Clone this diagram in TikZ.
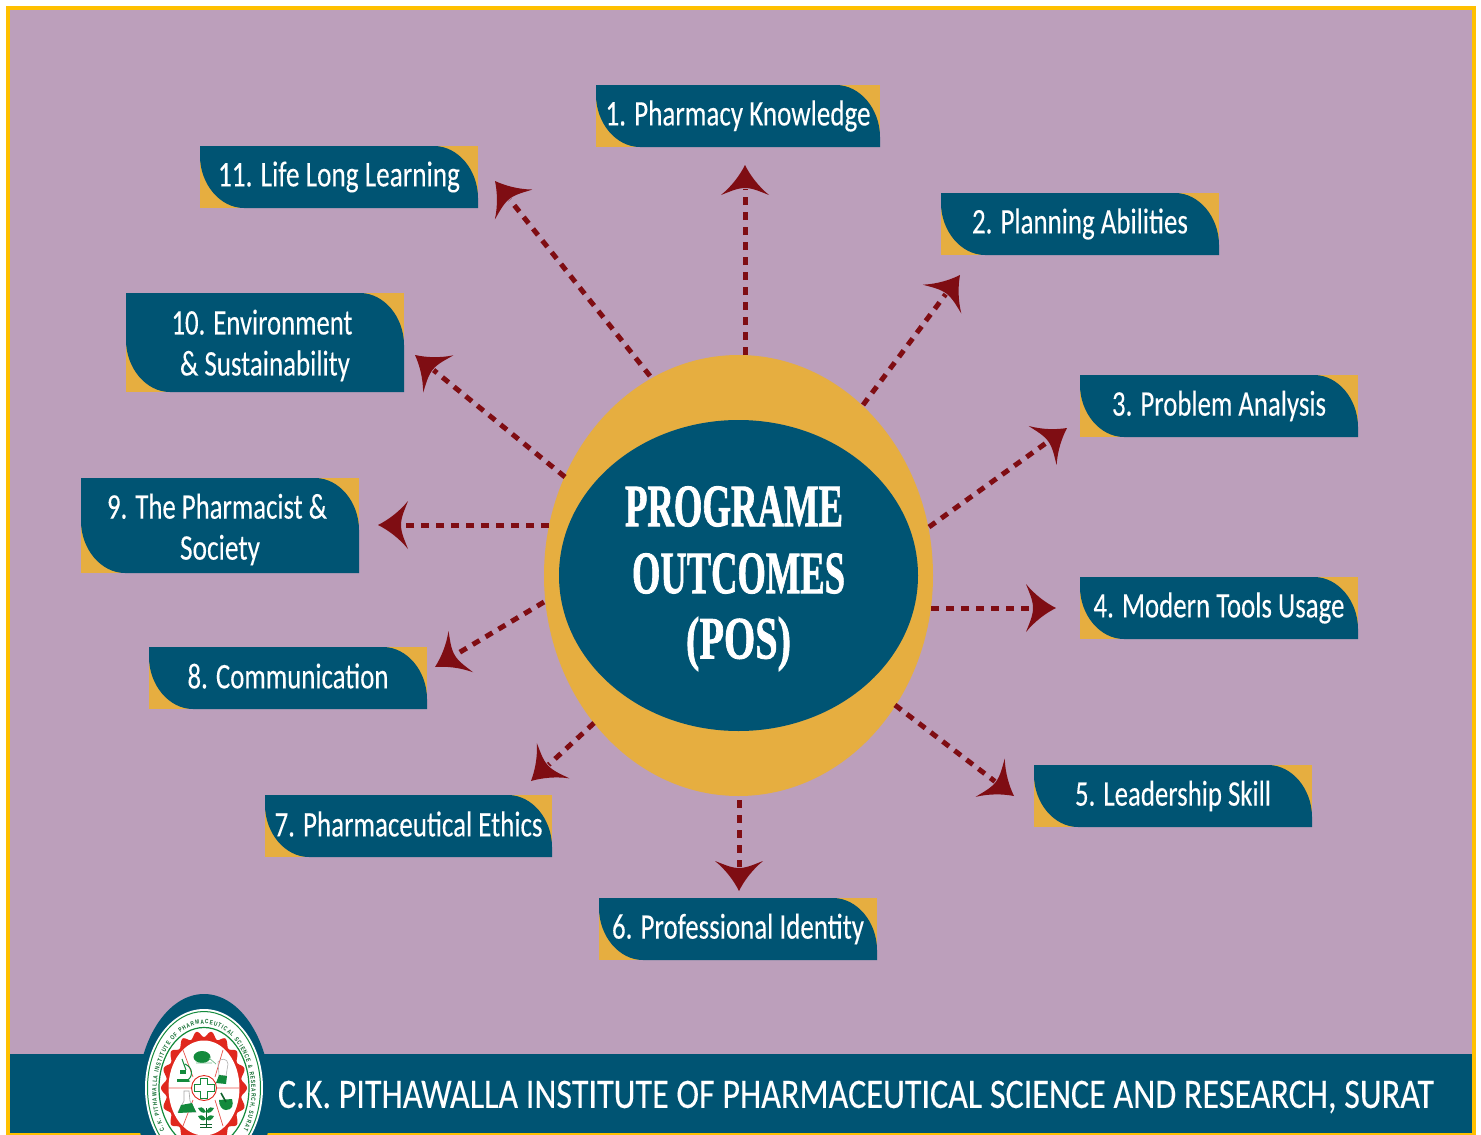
\documentclass[tikz,border=0pt]{standalone}
\usepackage{fontspec}
\usepackage{graphicx}
\usetikzlibrary{decorations.text,shapes.geometric}
\setmainfont{Carlito}[FakeBold=0.2]
\newfontfamily\titlefont{Liberation Serif}[BoldFont={Liberation Serif Bold},BoldFeatures={FakeBold=1.6}]
\newfontfamily\ringfont{Liberation Sans}[FakeStretch=0.78]
\definecolor{bgmauve}{HTML}{BC9FBB}
\definecolor{deepteal}{HTML}{005473}
\definecolor{goldfill}{HTML}{E6AE40}
\definecolor{frameyellow}{HTML}{FFC000}
\definecolor{tipred}{HTML}{7F0D13}
\definecolor{logored}{HTML}{E0281E}
\definecolor{logogreen}{HTML}{138A3C}
\definecolor{ringink}{HTML}{0E6A2E}
\pgfdeclarearrow{
  name=CurvedKite,
  setup code={
    \pgfarrowssettipend{0pt}
    \pgfarrowssetlineend{-24pt}
    \pgfarrowssetbackend{-30pt}
    \pgfarrowssetvisualbackend{-23pt}
  },
  drawing code={
    \pgfpathmoveto{\pgfqpoint{0pt}{0pt}}
    \pgfpathcurveto{\pgfqpoint{-10pt}{5pt}}{\pgfqpoint{-21pt}{13pt}}{\pgfqpoint{-30pt}{24pt}}
    \pgfpathcurveto{\pgfqpoint{-27pt}{16pt}}{\pgfqpoint{-23pt}{8pt}}{\pgfqpoint{-23pt}{0pt}}
    \pgfpathcurveto{\pgfqpoint{-23pt}{-8pt}}{\pgfqpoint{-27pt}{-16pt}}{\pgfqpoint{-30pt}{-24pt}}
    \pgfpathcurveto{\pgfqpoint{-21pt}{-13pt}}{\pgfqpoint{-10pt}{-5pt}}{\pgfqpoint{0pt}{0pt}}
    \pgfpathclose
    \pgfusepathqfill
  }
}
% \lineW[downward shift]{width}{text}
\newcommand{\lineW}[3][0]{\raisebox{-#1pt}[\height][\depth]{\resizebox{#2pt}{\height}{#3}}}
\tikzset{
  lblbox/.style={
    rectangle, fill=goldfill, text=white, inner sep=0pt, align=center,
    font=\fontsize{36}{41}\selectfont,
    minimum height=62pt,
    path picture={
      \fill[deepteal]
        (path picture bounding box.north west)
        -- ([xshift=-44pt]path picture bounding box.north east)
        .. controls ([xshift=-20pt]path picture bounding box.north east)
           and ([yshift=-24pt]path picture bounding box.north east)
        .. ([yshift=-52pt]path picture bounding box.north east)
        -- (path picture bounding box.south east)
        -- ([xshift=44pt]path picture bounding box.south west)
        .. controls ([xshift=20pt]path picture bounding box.south west)
           and ([yshift=24pt]path picture bounding box.south west)
        .. ([yshift=52pt]path picture bounding box.south west)
        -- cycle;
    }
  },
  connector/.style={color=tipred, line width=5pt, dash pattern=on 8pt off 7pt, -CurvedKite},
  titleline/.style={text=white, inner sep=0pt, font=\titlefont\bfseries\fontsize{60}{60}\selectfont},
  banner/.style={text=white, inner sep=0pt, font=\fontsize{42}{42}\selectfont},
  logoink/.style={fill=logogreen, draw=none},
  spoke/.style={draw=logored!80, line width=0.7pt}
}
\begin{document}
\begin{tikzpicture}[x=1pt,y=-1pt]
\useasboundingbox (0,0) rectangle (1481,1135);
\fill[white] (0,0) rectangle (1481,1135);
\fill[frameyellow] (6,6) rectangle (1476,1135);
\fill[bgmauve] (10,9.5) rectangle (1472,1054);
\fill[deepteal] (10,1054) rectangle (1472,1132.5);

% central ellipses
\node[ellipse, fill=goldfill, minimum width=389pt, minimum height=441pt, inner sep=0pt] (outer) at (738.5,575.5) {};
\node[ellipse, fill=deepteal, minimum width=359pt, minimum height=311pt, inner sep=0pt] (inner) at (738.5,575.5) {};
\node[titleline] (t1) at (734,506.5) {\lineW{218}{PROGRAME}};
\node[titleline] (t2) at (738.5,573.5) {\lineW{213}{OUTCOMES}};
\node[titleline] (t3) at (738.5,644) {\lineW{105}{(POS)}};

% outcome labels
\node[lblbox, minimum width=284pt] (b1) at (738,116) {\lineW{265}{1. Pharmacy Knowledge}};
\node[lblbox, minimum width=278pt] (b2) at (1080,224) {\lineW{216}{2. Planning Abilities}};
\node[lblbox, minimum width=278pt] (b3) at (1219,406) {\lineW{214}{3. Problem Analysis}};
\node[lblbox, minimum width=278pt] (b4) at (1219,608) {\lineW{251}{4. Modern Tools Usage}};
\node[lblbox, minimum width=278pt] (b5) at (1173,796) {\lineW{196}{5. Leadership Skill}};
\node[lblbox, minimum width=278pt] (b6) at (738,929) {\lineW{252}{6. Professional Identity}};
\node[lblbox, minimum width=287pt] (b7) at (408.5,826) {\lineW[-2]{268}{7. Pharmaceutical Ethics}};
\node[lblbox, minimum width=278pt] (b8) at (288,678) {\lineW[-2]{201}{8. Communication}};
\node[lblbox, minimum width=278pt, minimum height=95pt] (b9) at (220,525.5) {\hspace*{-6pt}\lineW[4]{220}{9. The Pharmacist \&}\\\lineW[4]{80}{Society}};
\node[lblbox, minimum width=278pt, minimum height=99pt] (b10) at (265,342.5) {\hspace*{-6pt}\lineW[3]{181}{10. Environment}\\\lineW[3]{170}{\& Sustainability}};
\node[lblbox, minimum width=278pt] (b11) at (339,177) {\lineW{242}{11. Life Long Learning}};

% connector ends
\coordinate (s1) at (745,355);   \coordinate (e1) at (745,165);
\coordinate (s2) at (863,405);   \coordinate (e2) at (960,275);
\coordinate (s3) at (929,527);   \coordinate (e3) at (1067,428);
\coordinate (s4) at (931,608);   \coordinate (e4) at (1056,608);
\coordinate (s5) at (895,705);   \coordinate (e5) at (1014,796);
\coordinate (s6) at (739,800);   \coordinate (e6) at (739,891);
\coordinate (s7) at (594,723);   \coordinate (e7) at (531,781);
\coordinate (s8) at (544,602);   \coordinate (e8) at (435,667);
\coordinate (s9) at (549,525);   \coordinate (e9) at (378,525);
\coordinate (s10) at (565,477);  \coordinate (e10) at (415,355);
\coordinate (s11) at (650,376);  \coordinate (e11) at (495,181);
\foreach \k in {1,...,11} { \draw[connector] (s\k) -- (e\k); }

% banner text
\node[banner] (bannertext) at (856,1097) {\lineW{1156}{C.K. PITHAWALLA INSTITUTE OF PHARMACEUTICAL SCIENCE AND RESEARCH, SURAT}};

% logo
\begin{scope}
\clip (0,0) rectangle (1481,1135);
\fill[deepteal] (204,1100) ellipse [x radius=67, y radius=106];
\fill[white] (204,1088) ellipse [x radius=59, y radius=79];
\draw[logogreen, line width=1pt] (204,1088) ellipse [x radius=56.5, y radius=76.5];
\draw[logogreen, line width=1.2pt] (204,1088) ellipse [x radius=45, y radius=60.5];
\fill[logored, smooth, samples=217, domain=0:360, variable=\t]
  plot ({204+(40.5+2.5*cos(18*\t))*cos(\t)}, {1088+(54+3*cos(18*\t))*sin(\t)}) -- cycle;
\fill[white] (204,1088) ellipse [x radius=35.5, y radius=47.5];
\path[spoke] (168,1088) -- (192,1088) (216,1088) -- (240,1088)
  (193,1077) -- (183,1050) (215,1077) -- (223,1050)
  (193,1100) -- (183,1126) (215,1100) -- (223,1126);
\draw[logored, line width=0.9pt] (204,1088) circle (12.5);
% centre cross
\draw[logogreen, line width=0.9pt, fill=white] (200.5,1078) -- (207.5,1078) -- (207.5,1084.5) -- (214,1084.5) -- (214,1091.5) -- (207.5,1091.5) -- (207.5,1098) -- (200.5,1098) -- (200.5,1091.5) -- (194,1091.5) -- (194,1084.5) -- (200.5,1084.5) -- cycle;
% rat
\fill[logoink] (202,1057) ellipse [x radius=8.5, y radius=6];
\fill[logoink] (194,1058) -- (199,1053) -- (200,1061) -- cycle;
\draw[logogreen!60, line width=0.7pt] (196,1063) -- (212,1063) (209,1058) -- (216,1064);
% microscope
\draw[logogreen, line width=1pt] (182,1059) -- (186,1070) (178,1081) -- (190,1081) (185,1064) .. controls (194,1068) and (193,1078) .. (186,1081);
\fill[logoink] (180,1070) rectangle (186,1074);
\fill[logoink] (177,1079) rectangle (189,1082);
% capsule
\draw[gray!60, line width=0.6pt] (218,1062) .. controls (220,1058) and (228,1058) .. (228,1064) -- (226,1076) -- (219,1075) -- cycle;
\fill[logoink] (219,1075) -- (227,1076) -- (226,1084) -- (216,1083) -- cycle;
% mortar
\fill[logoink] (219,1100) .. controls (219,1106) and (222,1110) .. (226,1110) .. controls (232,1110) and (234,1105) .. (232,1099) -- cycle;
\draw[logogreen!70!black, line width=1.6pt] (221,1093) -- (226,1102);
% flask
\draw[gray!70, line width=0.6pt] (184,1091) -- (189,1091) -- (190,1101) -- (196,1112) -- (178,1112) -- (184,1101) -- cycle;
\fill[logoink] (181,1105) -- (192,1103) -- (196,1112) -- (178,1113) -- cycle;
% plant
\draw[logogreen!70!black, line width=0.8pt] (206,1108) -- (206,1127) (200,1127) -- (212,1127) (200,1124) -- (212,1124);
\fill[logoink] (206,1112) .. controls (203,1106) and (200,1107) .. (198,1108) .. controls (200,1112) and (203,1114) .. (206,1112);
\fill[logoink] (206,1112) .. controls (209,1106) and (212,1107) .. (214,1108) .. controls (212,1112) and (209,1114) .. (206,1112);
\fill[logoink] (206,1119) .. controls (203,1114) and (200,1115) .. (198,1116) .. controls (200,1120) and (203,1122) .. (206,1119);
\fill[logoink] (206,1119) .. controls (209,1114) and (212,1115) .. (214,1116) .. controls (212,1120) and (209,1122) .. (206,1119);
% ring text
\begin{scope}[shift={(204,1092)}, y=1pt]
\path[decorate, decoration={text along path, text align={fit to path},
   text={|\ringfont\bfseries\fontsize{6.2}{7}\selectfont\color{ringink}|C.K. PITHAWALLA INSTITUTE OF PHARMACEUTICAL SCIENCE {\&} RESEARCH, SURAT}}]
  (214:47.5 and 68) arc [start angle=214, end angle=-34, x radius=47.5, y radius=68];
\end{scope}
\end{scope}
\end{tikzpicture}
\end{document}
